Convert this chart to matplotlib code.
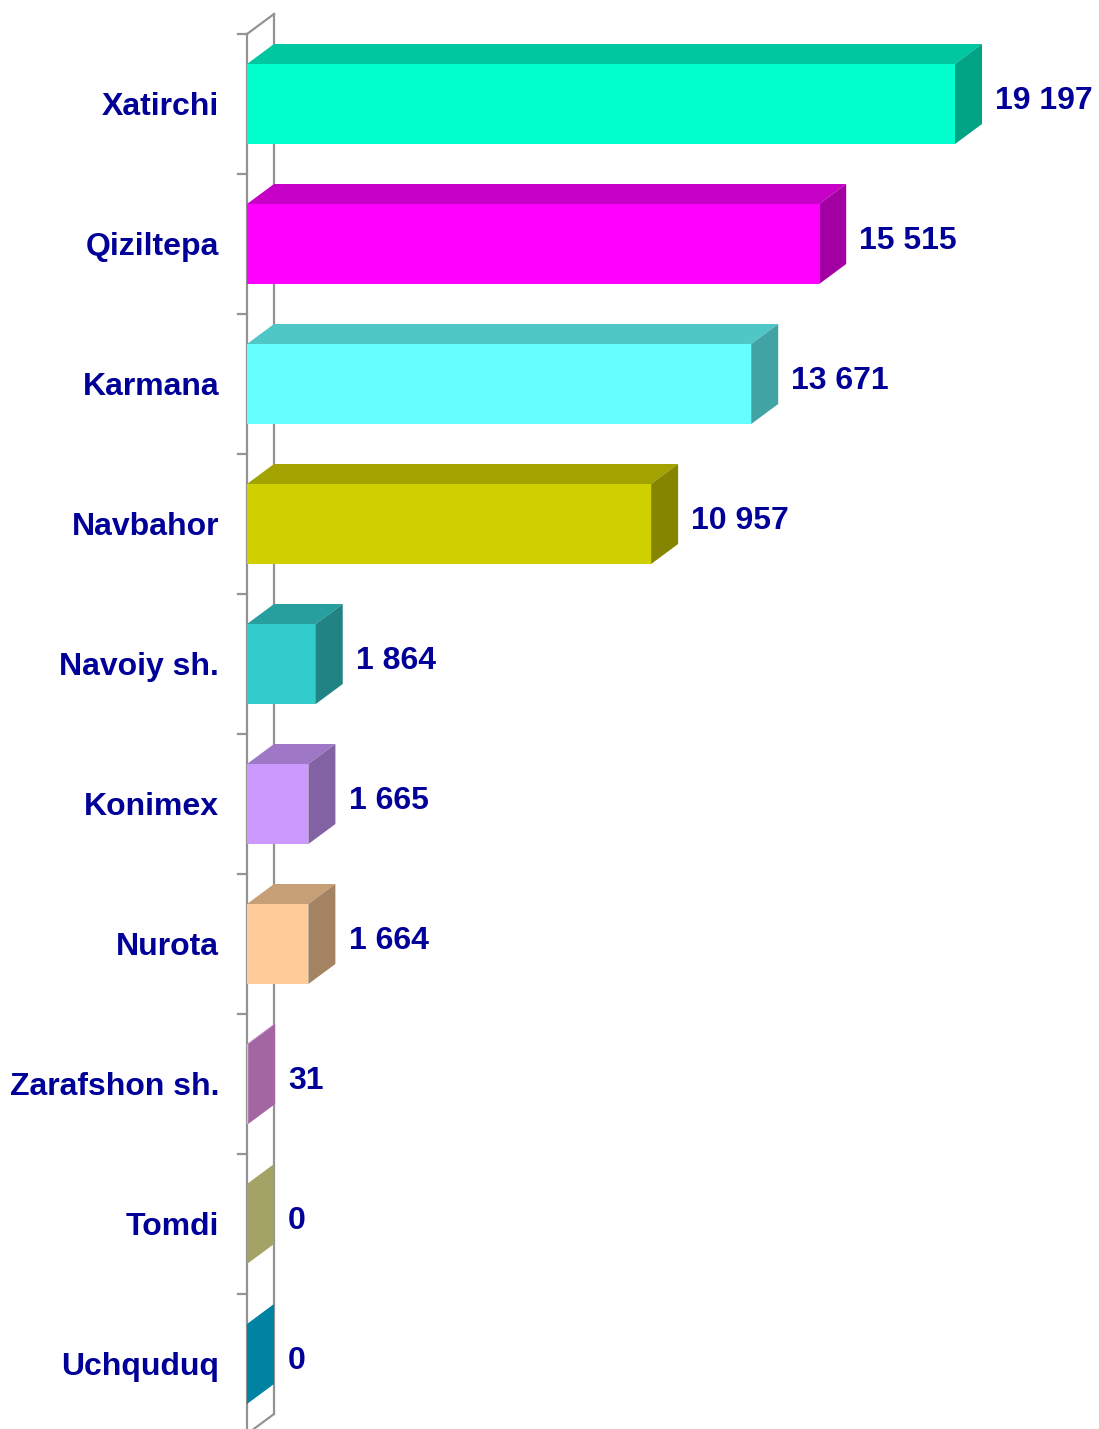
import matplotlib
matplotlib.use("Agg")
import matplotlib.pyplot as plt
from matplotlib.patches import Polygon
import numpy as np

categories = ["Xatirchi", "Qiziltepa", "Karmana", "Navbahor", "Navoiy sh.",
              "Konimex", "Nurota", "Zarafshon sh.", "Tomdi", "Uchquduq"]
values = [19197, 15515, 13671, 10957, 1864, 1665, 1664, 31, 0, 0]
value_labels = ["19 197", "15 515", "13 671", "10 957", "1 864",
                "1 665", "1 664", "31", "0", "0"]
front_colors = ["#00FFCC", "#FF00FF", "#66FFFF", "#D0D000", "#33CCCC",
                "#CC99FF", "#FFCC99", "#FFA0FF", "#FFFFA0", "#00CCFF"]

W, H = 1099, 1429
DPI = 100
fig = plt.figure(figsize=(W / DPI, H / DPI), dpi=DPI)
fig.patch.set_facecolor("white")

left_px = 247
ax_w_px = W - left_px
ax = fig.add_axes([left_px / W, 0, ax_w_px / W, 1])
px_per_val = 708.0 / 19197
xmax = ax_w_px / px_per_val
cat_px = 140.0
top_px = 34.0
ax.set_xlim(0, xmax)
ax.set_ylim((H - top_px) / cat_px, -top_px / cat_px)
ax.axis("off")

# depth in data units
dx = 27.0 / px_per_val
dy = 20.0 / cat_px
bar_h = 80.0 / cat_px
n = len(categories)
ypos = np.arange(n) + 0.5

def shade(c, f):
    r, g, b = matplotlib.colors.to_rgb(c)
    return (r * f, g * f, b * f)

wall_col = "#939393"
lw = 1.6
ax.plot([0, 0], [0, n], color=wall_col, lw=lw, clip_on=False, zorder=1)
ax.plot([dx, dx], [-dy, n - dy], color=wall_col, lw=lw, clip_on=False, zorder=1)
ax.plot([0, dx], [0, -dy], color=wall_col, lw=lw, clip_on=False, zorder=1)
ax.plot([0, dx], [n, n - dy], color=wall_col, lw=lw, clip_on=False, zorder=1)
tick_len = 9.0 / px_per_val
for b in range(n):
    ax.plot([-tick_len, 0], [b, b], color=wall_col, lw=lw, clip_on=False, zorder=1)

label_col = "#000099"
fam = ["Liberation Sans", "DejaVu Sans"]
for i, (v, c) in enumerate(zip(values, front_colors)):
    y0 = ypos[i] - bar_h / 2
    y1 = ypos[i] + bar_h / 2
    ax.barh(ypos[i], v, height=bar_h, color=c, linewidth=0, zorder=3)
    top = Polygon([(0, y0), (v, y0), (v + dx, y0 - dy), (dx, y0 - dy)],
                  closed=True, facecolor=shade(c, 0.78), edgecolor="none", zorder=3)
    side = Polygon([(v, y0), (v + dx, y0 - dy), (v + dx, y1 - dy), (v, y1)],
                   closed=True, facecolor=shade(c, 0.64), edgecolor="none", zorder=3)
    ax.add_patch(top)
    ax.add_patch(side)
    ax.annotate(value_labels[i], xy=(v, ypos[i]), xytext=(29, 2),
                textcoords="offset points", ha="left", va="center",
                fontsize=23, fontweight="bold", color=label_col,
                family=fam, zorder=5, annotation_clip=False)
    ax.annotate(categories[i], xy=(0, ypos[i]), xytext=(-20, -2),
                textcoords="offset points", ha="right", va="center",
                fontsize=23, fontweight="bold", color=label_col,
                family=fam, annotation_clip=False)

fig.savefig("out.png", dpi=DPI, facecolor="white")
